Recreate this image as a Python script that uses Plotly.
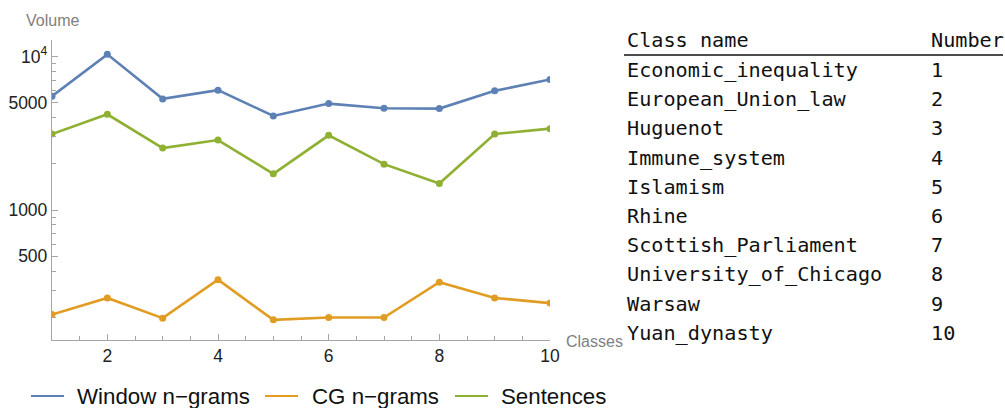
import plotly.graph_objects as go

classes = list(range(1, 11))
window_ngrams = [5525, 10360, 5308, 6050, 4108, 4946, 4611, 4587, 5986, 7102]
cg_ngrams = [208, 267, 197, 351, 192, 199, 199, 338, 267, 247]
sentences = [3130, 4211, 2535, 2859, 1721, 3069, 1991, 1488, 3130, 3394]

class_names = ["Economic_inequality", "European_Union_law", "Huguenot", "Immune_system",
               "Islamism", "Rhine", "Scottish_Parliament", "University_of_Chicago",
               "Warsaw", "Yuan_dynasty"]
class_numbers = [1, 2, 3, 4, 5, 6, 7, 8, 9, 10]

y_tickvals = [500, 1000, 5000, 10000]
y_ticktext = ["500", "1000", "5000", "10<sup>4</sup>"]
x_tickvals = [2, 4, 6, 8, 10]

series_names = ["Window n\u2212grams", "CG n\u2212grams", "Sentences"]
series_values = [window_ngrams, cg_ngrams, sentences]
series_colors = ["#5E81B5", "#E19C24", "#8FB032"]

W, H = 1005, 408
L, R, T, B = 52, 550, 40, 340

def px_x(x):
    return (x - L) / (R - L)

def px_y(y):
    return (B - y) / (B - T)

fig = go.Figure()
for name, vals, col in zip(series_names, series_values, series_colors):
    fig.add_trace(go.Scatter(x=classes, y=vals, mode="lines+markers", name=name,
                             line=dict(color=col, width=2.6), marker=dict(color=col, size=7),
                             showlegend=False))

minor_y = []
for d in [100, 1000, 10000]:
    for k in range(1, 10):
        v = k * d
        if v not in y_tickvals:
            minor_y.append(v)

axis_col = "#a6a6a6"
tick_font = dict(size=17.5, color="#222")
fig.update_layout(
    width=W, height=H,
    margin=dict(l=L, r=W - R, t=T, b=H - B, autoexpand=False),
    plot_bgcolor="white", paper_bgcolor="white",
    font=dict(family="Liberation Sans, Arial, sans-serif", size=16, color="#222"),
    showlegend=False,
    xaxis=dict(range=[1, 10], tickvals=x_tickvals, ticks="inside", ticklen=6, tickcolor=axis_col,
               showline=True, linecolor=axis_col, linewidth=1.3, showgrid=False, zeroline=False,
               automargin=False, tickfont=tick_font,
               minor=dict(dtick=0.5, tick0=1, ticks="inside", ticklen=3.5, tickcolor=axis_col, showgrid=False)),
    yaxis=dict(type="log", range=[2.152, 4.109], tickvals=y_tickvals, ticktext=y_ticktext,
               ticks="inside", ticklen=6, tickcolor=axis_col,
               showline=True, linecolor=axis_col, linewidth=1.3, showgrid=False, zeroline=False,
               automargin=False, tickfont=tick_font,
               minor=dict(tickmode="array", tickvals=minor_y, ticks="inside", ticklen=3.5,
                          tickcolor=axis_col, showgrid=False)),
)

ann = []
ann.append(dict(text="Volume", xref="paper", yref="paper", x=px_x(24), y=px_y(20),
                xanchor="left", yanchor="middle", showarrow=False,
                font=dict(size=16, color="#7f7f7f")))
ann.append(dict(text="Classes", xref="paper", yref="paper", x=px_x(564), y=px_y(341),
                xanchor="left", yanchor="middle", showarrow=False,
                font=dict(size=16, color="#7f7f7f")))

# legend (drawn manually)
leg_line_x = [31, 265, 455]
leg_text_x = [75, 310, 499]
leg_y = 396
shapes = []
for name, col, lx, tx in zip(series_names, series_colors, leg_line_x, leg_text_x):
    shapes.append(dict(type="line", xref="paper", yref="paper", x0=px_x(lx), x1=px_x(lx + 33),
                       y0=px_y(leg_y), y1=px_y(leg_y), line=dict(color=col, width=2.2)))
    ann.append(dict(text=name, xref="paper", yref="paper", x=px_x(tx), y=px_y(leg_y),
                    xanchor="left", yanchor="middle", showarrow=False,
                    font=dict(size=22.3, color="#111")))

mono = "DejaVu Sans Mono, Liberation Mono, monospace"
tx1, tx2 = 625, 929
fs = 20.2
ann.append(dict(text="Class name", xref="paper", yref="paper", x=px_x(tx1), y=px_y(40),
                xanchor="left", yanchor="middle", showarrow=False, font=dict(family=mono, size=fs, color="#111")))
ann.append(dict(text="Number", xref="paper", yref="paper", x=px_x(tx2), y=px_y(40),
                xanchor="left", yanchor="middle", showarrow=False, font=dict(family=mono, size=fs, color="#111")))
row0, dy = 70, 29.2
for i, (nm, num) in enumerate(zip(class_names, class_numbers)):
    yy = row0 + i * dy
    ann.append(dict(text=nm, xref="paper", yref="paper", x=px_x(tx1), y=px_y(yy),
                    xanchor="left", yanchor="middle", showarrow=False,
                    font=dict(family=mono, size=fs, color="#111")))
    ann.append(dict(text=str(num), xref="paper", yref="paper", x=px_x(tx2), y=px_y(yy),
                    xanchor="left", yanchor="middle", showarrow=False,
                    font=dict(family=mono, size=fs, color="#111")))
shapes.append(dict(type="line", xref="paper", yref="paper", x0=px_x(624), x1=px_x(1003),
                   y0=px_y(55), y1=px_y(55), line=dict(color="#111", width=1.5)))
fig.update_layout(annotations=ann, shapes=shapes)

fig.write_html("out.html", config={"displayModeBar": False},
               post_script="document.body.style.margin='0';document.body.style.overflow='hidden';")
